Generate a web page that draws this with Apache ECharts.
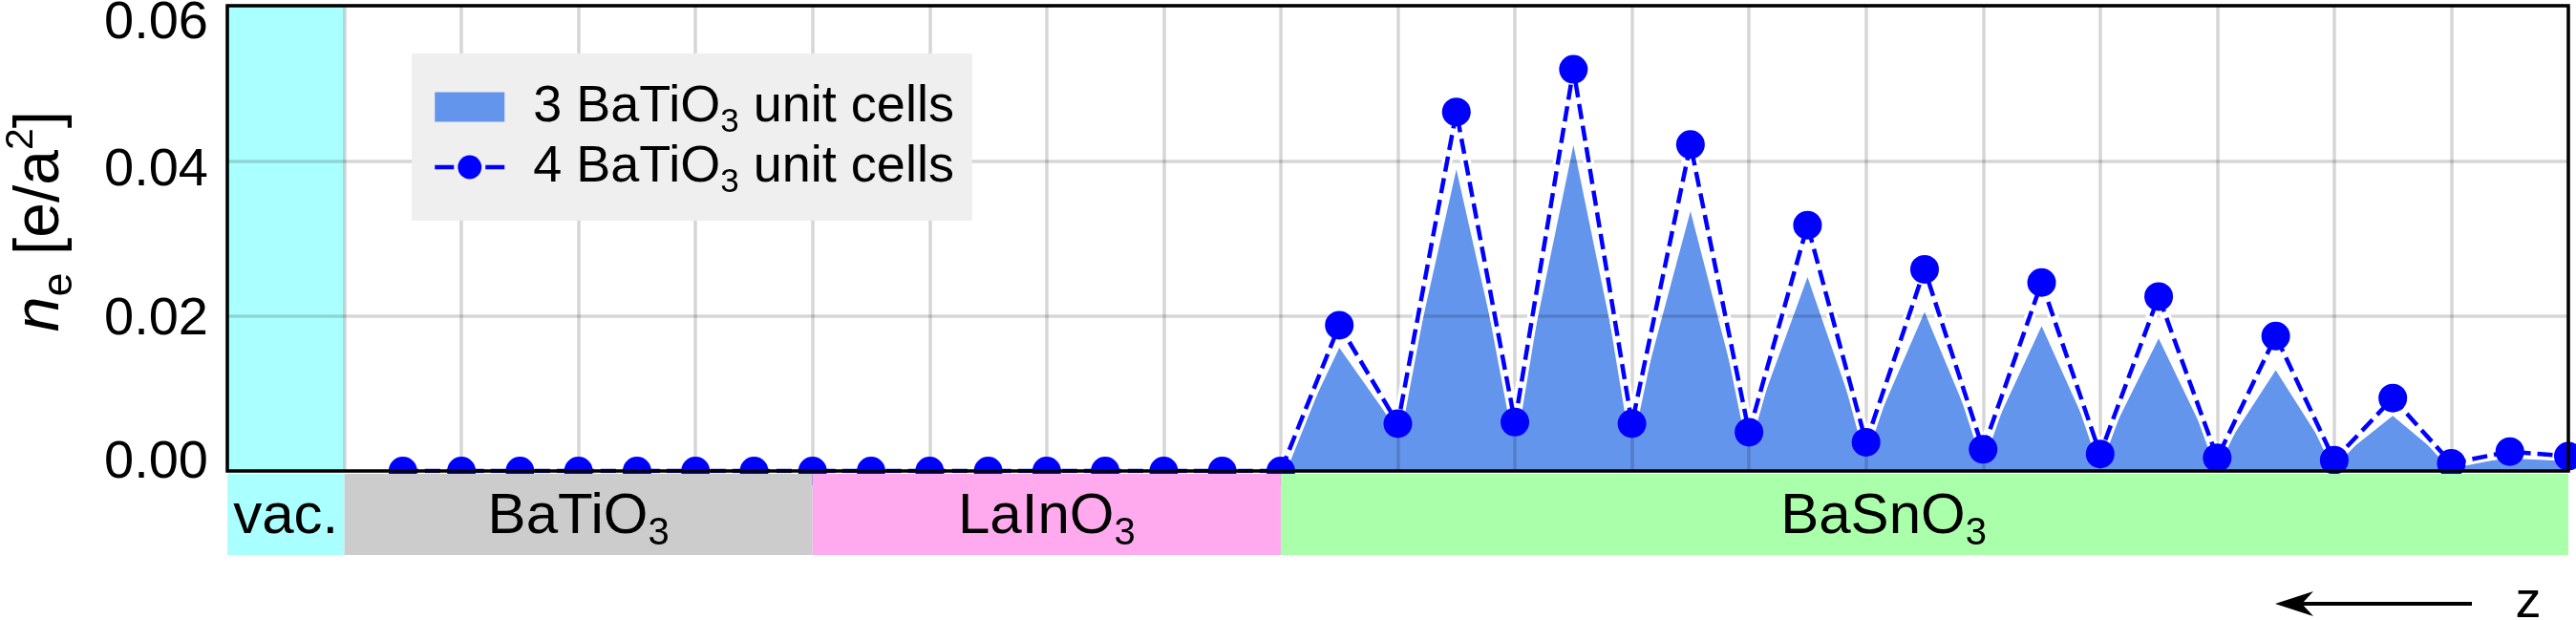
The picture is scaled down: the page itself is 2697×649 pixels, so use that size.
<!DOCTYPE html>
<html>
<head>
<meta charset="utf-8">
<script src="https://cdn.jsdelivr.net/npm/echarts@6/dist/echarts.min.js"></script>
<style>
  html, body { margin: 0; padding: 0; background: #ffffff; }
  #chart { width: 2697px; height: 649px; }
</style>
</head>
<body>
<div id="chart"></div>
<script>
// ---------------- data ----------------
// layer index along z (x axis runs 0..40)
const layerIdx4 = [3, 4, 5, 6, 7, 8, 9, 10, 11, 12, 13, 14, 15, 16, 17, 18,
                   19, 20, 21, 22, 23, 24, 25, 26, 27, 28, 29, 30, 31, 32, 33, 34, 35, 36, 37, 38, 39, 40];
// n_e for 4 BaTiO3 unit cells
const ne4 = [0, 0, 0, 0, 0, 0, 0, 0, 0, 0, 0, 0, 0, 0, 0, 0,
             0.0188, 0.0061, 0.0463, 0.0063, 0.0518, 0.0061, 0.0421, 0.0050, 0.0317, 0.0037,
             0.0260, 0.0028, 0.0243, 0.0022, 0.0225, 0.0017, 0.0174, 0.0014, 0.0094, 0.0010,
             0.0025, 0.0019];
const layerIdx3 = [18, 19, 20, 21, 22, 23, 24, 25, 26, 27, 28, 29, 30, 31, 32, 33, 34, 35, 36, 37, 38, 39, 40];
// n_e for 3 BaTiO3 unit cells
const ne3 = [0, 0.0159, 0.0052, 0.0389, 0.0055, 0.0420, 0.0053, 0.0335, 0.0043, 0.0250,
             0.0031, 0.0205, 0.0024, 0.0187, 0.0019, 0.0171, 0.0014, 0.0130, 0.0011, 0.0071,
             0.0008, 0.0016, 0.0013];
const seriesNames = ['3 BaTiO3 unit cells', '4 BaTiO3 unit cells'];
const regionNames = ['vac.', 'BaTiO3', 'LaInO3', 'BaSnO3'];
const regionStart = [0, 2, 10, 18];
const regionEnd = [2, 10, 18, 40];
const regionLabelAt = [1, 6, 14, 28.3];
const yTickLabels = ['0.00', '0.02', '0.04', '0.06'];

// ---------------- styles ----------------
const FONT = '"Liberation Sans", Arial, Helvetica, sans-serif';
const regionColors = ['#aaffff', '#cccccc', '#ffaaee', '#aaffaa'];
const GRID_LINE = { color: 'rgba(0,0,0,0.16)', width: 3.5 };
const subFmt = s => s.replace(/O3/, 'O{sub|3}');

const chart = echarts.init(document.getElementById('chart'), null, { renderer: 'canvas' });

const tickRich = {};
const tickPad = [[0, 0, 16, 0], [8, 0, 0, 0], [20, 0, 0, 0], [37, 0, 0, 0]];
for (let i = 0; i < 4; i++) {
  tickRich['t' + i] = { fontSize: 56, fontFamily: FONT, color: '#000', lineHeight: 60, padding: tickPad[i] };
}

const option = {
  animation: false,
  backgroundColor: '#ffffff',
  textStyle: { fontFamily: FONT },
  grid: [
    { left: 238, top: 6, width: 2451, height: 487, show: true, borderColor: '#000', borderWidth: 3.5,
      backgroundColor: 'transparent', z: 20, containLabel: false, outerBoundsMode: 'none' },
    { left: 238, top: 496, width: 2451, height: 85, show: false, containLabel: false, outerBoundsMode: 'none' }
  ],
  xAxis: [
    { type: 'value', gridIndex: 0, min: 0, max: 40, interval: 2, z: 3,
      axisLine: { show: false }, axisTick: { show: false }, axisLabel: { show: false },
      splitLine: { show: true, lineStyle: GRID_LINE } },
    { type: 'value', gridIndex: 1, min: 0, max: 40, show: false }
  ],
  yAxis: [
    { type: 'value', gridIndex: 0, min: 0, max: 0.06, interval: 0.02, z: 3,
      axisLine: { show: false }, axisTick: { show: false },
      splitLine: { show: true, lineStyle: GRID_LINE },
      axisLabel: { margin: 20, fontSize: 56, fontFamily: FONT, color: '#000',
        formatter: (v, i) => '{t' + i + '|' + yTickLabels[i] + '}', rich: tickRich },
      name: '{i|n}{sub|e}{r| [e/a}{sup|2}{r|]}',
      nameLocation: 'middle', nameRotate: 90, nameGap: 152,
      nameTextStyle: { fontSize: 66, fontFamily: FONT, color: '#000', lineHeight: 86, padding: [0, 0, 0, 36],
        rich: {
          i: { fontSize: 66, fontFamily: FONT, fontStyle: 'italic', color: '#000', lineHeight: 86 },
          r: { fontSize: 66, fontFamily: FONT, color: '#000', lineHeight: 86 },
          sub: { fontSize: 45, fontFamily: FONT, color: '#000', lineHeight: 86, padding: [40, 0, 0, 0] },
          sup: { fontSize: 41, fontFamily: FONT, color: '#000', lineHeight: 86, padding: [0, 0, 41, 0] }
        } } },
    { type: 'value', gridIndex: 1, min: 0, max: 1, show: false }
  ],
  legend: {
    orient: 'vertical', left: 431, top: 56,
    padding: [22, 19, 22, 22],
    itemWidth: 73, itemHeight: 31, itemGap: -5,
    backgroundColor: '#efefef',
    selectedMode: false,
    formatter: name => subFmt(name),
    textStyle: { fontSize: 54, fontFamily: FONT, color: '#000', lineHeight: 56, padding: [0, 0, 0, 25],
      rich: { sub: { fontSize: 35, fontFamily: FONT, color: '#000', lineHeight: 56, padding: [33, 0, 0, 0] } } },
    data: [
      { name: seriesNames[0], icon: 'rect', itemStyle: { color: '#6495ED', borderWidth: 0 } },
      { name: seriesNames[1], lineStyle: { width: 4.5, type: [20, 33], color: '#0000ff' },
        itemStyle: { color: '#0000ff', borderWidth: 0 } }
    ]
  },
  series: [
    { // vacuum shading inside the plot
      type: 'custom', name: 'vac-plot', xAxisIndex: 0, yAxisIndex: 0, z: 1, silent: true,
      data: [[regionStart[0], regionEnd[0], 0]],
      renderItem: (params, api) => {
        const p0 = api.coord([api.value(0), 0.06]);
        const p1 = api.coord([api.value(1), 0]);
        return { type: 'rect', shape: { x: p0[0], y: p0[1], width: p1[0] - p0[0], height: p1[1] - p0[1] },
                 style: { fill: regionColors[api.value(2)] } };
      }
    },
    { // 3 BaTiO3 unit cells, filled area
      type: 'line', name: seriesNames[0], xAxisIndex: 0, yAxisIndex: 0, z: 2, silent: true,
      data: layerIdx3.map((x, i) => [x, ne3[i]]),
      symbol: 'none', color: '#6495ED',
      lineStyle: { width: 0 },
      areaStyle: { color: '#6495ED', opacity: 1 }
    },
    { // white halo under dashed line
      type: 'line', name: '_halo', xAxisIndex: 0, yAxisIndex: 0, z: 4, silent: true,
      data: layerIdx4.map((x, i) => [x, ne4[i]]),
      symbol: 'none',
      lineStyle: { color: '#ffffff', width: 11, join: 'round', cap: 'round' }
    },
    { // 4 BaTiO3 unit cells
      type: 'line', name: seriesNames[1], xAxisIndex: 0, yAxisIndex: 0, z: 5, silent: true,
      data: layerIdx4.map((x, i) => [x, ne4[i]]),
      symbol: 'circle', symbolSize: 30, color: '#0000ff',
      itemStyle: { color: '#0000ff' },
      lineStyle: { color: '#0000ff', width: 4.5, type: [16, 7] }
    },
    { // material band under the axis
      type: 'custom', name: 'band', xAxisIndex: 1, yAxisIndex: 1, z: 10, silent: true,
      data: regionStart.map((s, i) => [s, regionEnd[i], i]),
      renderItem: (params, api) => {
        const i = api.value(2);
        const p0 = api.coord([api.value(0), 1]);
        const p1 = api.coord([api.value(1), 0]);
        const pl = api.coord([regionLabelAt[i], 0.5]);
        return { type: 'group', children: [
          { type: 'rect', shape: { x: p0[0], y: p0[1], width: p1[0] - p0[0], height: p1[1] - p0[1] },
            style: { fill: regionColors[i] } },
          { type: 'text', x: pl[0], y: pl[1] + 3,
            style: { text: subFmt(regionNames[i]), fontSize: 60, fontFamily: FONT, fill: '#000',
              align: 'center', verticalAlign: 'middle', lineHeight: 64,
              rich: { sub: { fontSize: 40, fontFamily: FONT, fill: '#000', lineHeight: 64, padding: [34, 0, 0, 0] } } } }
        ] };
      }
    }
  ],
  graphic: [
    { type: 'line', shape: { x1: 2588, y1: 632, x2: 2405, y2: 632 }, style: { stroke: '#000', lineWidth: 4 } },
    { type: 'polygon', shape: { points: [[2382, 632], [2422, 619], [2410, 632], [2422, 645]] }, style: { fill: '#000' } },
    { type: 'text', x: 2647, y: 631, style: { text: 'z', fontSize: 54, fontFamily: FONT, fill: '#000',
      align: 'center', verticalAlign: 'middle' } }
  ]
};
chart.setOption(option);
</script>
</body>
</html>
